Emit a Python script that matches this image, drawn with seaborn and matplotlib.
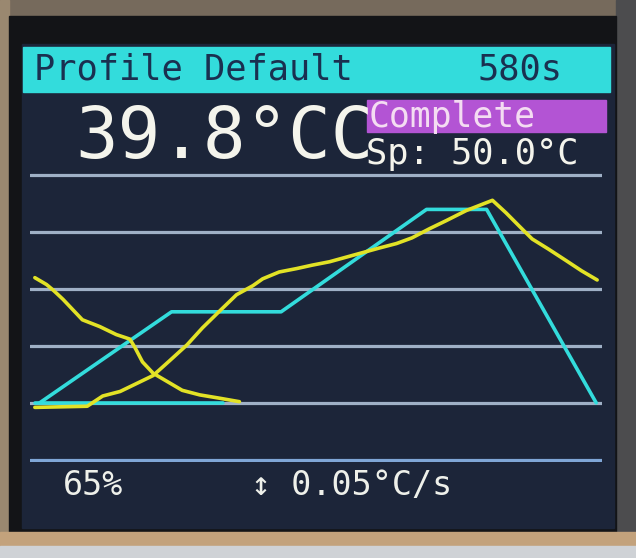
import matplotlib
matplotlib.use('Agg')
import matplotlib.pyplot as plt
import seaborn as sns
from matplotlib.patches import Rectangle

# reflow profile (setpoint), seconds / degC
profile_t = [5, 141, 254, 404, 466, 579]
profile_temp = [50, 130, 130, 220, 220, 50]

# setpoint after the run finished (Sp 50.0 C)
hold_t = [0, 194]
hold_temp = [50, 50]

# measured oven temperature during the run
run_t = [0, 54, 70, 88, 105, 122, 139, 157, 173, 191, 208, 225, 235, 252, 270,
         286, 304, 321, 338, 355, 373, 389, 407, 424, 445, 472, 486, 500, 513,
         530, 548, 564, 580]
run_temp = [46, 47, 56, 60, 67, 74, 87, 101, 116, 131, 145, 153, 159, 165, 168,
            171, 174, 178, 182, 186, 190, 195, 203, 210, 219, 228, 217, 205, 194,
            185, 175, 166, 158]

# cooling that wrapped round to the left edge
wrap_t = [0, 12, 19, 29, 39, 49, 67, 84, 98, 103, 111, 122, 136, 152, 170, 191, 211]
wrap_temp = [160, 154, 149, 141, 132, 123, 117, 110, 106, 99, 86, 76, 69, 61, 57, 54, 51]

grid_levels = [0, 50, 100, 150, 200, 250]

header_left = "Profile Default"
header_right = "580s"
current_temp = "39.8°CC"
state = "Complete"
setpoint = "Sp: 50.0°C"
power = "65%"
rate = "↕ 0.05°C/s"

CYAN = '#33dcdc'
YELLOW = '#e2e226'
SCREEN = '#1c2539'
W, H = 636, 558

sns.set_theme(style='dark')
plt.rcParams['font.family'] = ['DejaVu Sans Mono', 'DejaVu Sans']

fig = plt.figure(figsize=(6.36, 5.58), dpi=100)
fig.patch.set_facecolor('#3a3a3c')


def box(x0, y0, x1, y1, color, z=0):
    fig.patches.append(Rectangle((x0 / W, 1 - y1 / H), (x1 - x0) / W, (y1 - y0) / H,
                                 transform=fig.transFigure, color=color, zorder=z))


def label(x, y, s, size, color, ha='left', weight='normal'):
    fig.text(x / W, 1 - y / H, s, fontsize=size, color=color, ha=ha, weight=weight,
             va='baseline', family=['DejaVu Sans Mono', 'DejaVu Sans'], zorder=5)


# frame around the lcd
box(0, 0, 636, 16, '#766a5c')
box(0, 0, 9, 558, '#9a8870')
box(616, 0, 636, 558, '#4c4c4e')
box(9, 16, 616, 532, '#131417')
box(0, 532, 636, 546, '#c3a27c')
box(0, 546, 636, 558, '#cfd2d6')
box(22, 44, 614, 528, SCREEN)

# header bar
box(23, 47, 610, 92, CYAN, 1)
label(34, 80, header_left, 25.5, '#1a3050')
label(562, 80, header_right, 25.5, '#1a3050', ha='right')

# big readout + status
label(75, 158, current_temp, 51, '#f4f4ec')
box(367, 100, 606, 132, '#b354d4', 2)
label(369, 127, state, 25, '#f4dcf2')
label(366, 164, setpoint, 25.5, '#f4f4ec')

# bottom status line
label(63, 495, power, 24, '#eef0ea')
label(251, 495, rate, 24, '#eef0ea')

# temperature plot
ax = fig.add_axes([30 / W, 1 - 462 / H, 572 / W, 289 / H])
ax.set_zorder(3)
ax.set_facecolor('none')
ax.set_xlim(-5, 585)
ax.set_ylim(-2, 252)
for lvl in grid_levels:
    ax.axhline(lvl, color='#7fa6d6' if lvl == 0 else '#9fb0c6', lw=2.3, zorder=1)

sns.lineplot(x=hold_t, y=hold_temp, ax=ax, color=CYAN, lw=2.6, sort=False, zorder=3)
sns.lineplot(x=profile_t, y=profile_temp, ax=ax, color=CYAN, lw=2.6, sort=False, zorder=3)
sns.lineplot(x=wrap_t, y=wrap_temp, ax=ax, color=YELLOW, lw=2.6, sort=False, zorder=4)
sns.lineplot(x=run_t, y=run_temp, ax=ax, color=YELLOW, lw=2.6, sort=False, zorder=4)
ax.axis('off')

fig.savefig('out.png', dpi=100, facecolor=fig.get_facecolor())
